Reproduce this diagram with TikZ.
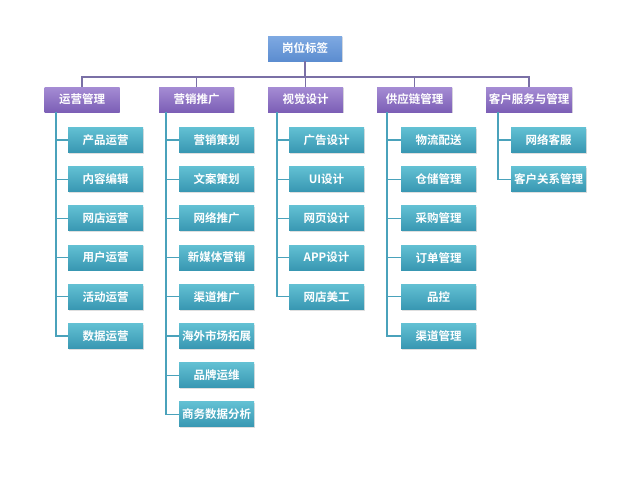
\documentclass[tikz,border=0pt]{standalone}
\usepackage{fontspec}
\newfontfamily\cjk{Noto Sans CJK SC}[BoldFont={* Bold}]
\usetikzlibrary{shadows}
\definecolor{topA}{HTML}{7EA9E2}
\definecolor{topB}{HTML}{5C8DD0}
\definecolor{purA}{HTML}{A58CD4}
\definecolor{purB}{HTML}{7C5FB6}
\definecolor{tealA}{HTML}{62C0D3}
\definecolor{tealB}{HTML}{3897B2}
\definecolor{busline}{HTML}{7A70A6}
\definecolor{trunkline}{HTML}{4AA2BB}
\tikzset{
  box/.style={minimum height=25pt, inner sep=0pt, text=white,
    font=\cjk\bfseries\fontsize{11.5}{13}\selectfont,
    drop shadow={shadow xshift=0.6pt, shadow yshift=-1.2pt, opacity=0.25}},
  rootbox/.style={box, minimum width=74pt, top color=topA, bottom color=topB},
  headbox/.style={box, minimum width=75pt, top color=purA, bottom color=purB},
  leafbox/.style={box, minimum width=75pt, top color=tealA, bottom color=tealB},
  busedge/.style={draw=busline, line width=1.3pt},
  trunkedge/.style={draw=trunkline, line width=1.3pt},
}
\begin{document}
\begin{tikzpicture}[x=1pt,y=-1pt]
\useasboundingbox[fill=white] (0,0) rectangle (631,490);
% root
\node[rootbox] (root) at (305,48.5) {岗位标签};
% heads
\node[headbox] (a1) at (82,99.5) {运营管理};
\node[headbox] (a2) at (196.5,99.5) {营销推广};
\node[headbox] (a3) at (305.5,99.5) {视觉设计};
\node[headbox] (a4) at (414.5,99.5) {供应链管理};
\node[headbox, minimum width=86pt] (a5) at (529,99.5) {客户服务与管理};
% bus
\coordinate (bus) at (305,77);
\draw[busedge] (root.south) -- (root.south |- bus);
\draw[busedge] (a1.north) -- (a1.north |- bus) -- (a5.north |- bus) -- (a5.north);
\draw[busedge] (a2.north) -- (a2.north |- bus);
\draw[busedge] (a3.north) -- (a3.north |- bus);
\draw[busedge] (a4.north) -- (a4.north |- bus);
% trunk x positions
\coordinate (t1) at (56,0);
\coordinate (t2) at (166,0);
\coordinate (t3) at (277,0);
\coordinate (t4) at (387,0);
\coordinate (t5) at (498,0);
% column 1
\node[leafbox] (c11) at (105.5,140) {产品运营};
\node[leafbox] (c12) at (105.5,179.2) {内容编辑};
\node[leafbox] (c13) at (105.5,218.4) {网店运营};
\node[leafbox] (c14) at (105.5,257.6) {用户运营};
\node[leafbox] (c15) at (105.5,296.8) {活动运营};
\node[leafbox] (c16) at (105.5,336) {数据运营};
% column 2
\node[leafbox] (c21) at (216.5,140) {营销策划};
\node[leafbox] (c22) at (216.5,179.2) {文案策划};
\node[leafbox] (c23) at (216.5,218.4) {网络推广};
\node[leafbox] (c24) at (216.5,257.6) {新媒体营销};
\node[leafbox] (c25) at (216.5,296.8) {渠道推广};
\node[leafbox] (c26) at (216.5,336) {海外市场拓展};
\node[leafbox] (c27) at (216.5,375.2) {品牌运维};
\node[leafbox] (c28) at (216.5,414.4) {商务数据分析};
% column 3
\node[leafbox] (c31) at (326.5,140) {广告设计};
\node[leafbox] (c32) at (326.5,179.2) {UI设计};
\node[leafbox] (c33) at (326.5,218.4) {网页设计};
\node[leafbox] (c34) at (326.5,257.6) {APP设计};
\node[leafbox] (c35) at (326.5,296.8) {网店美工};
% column 4
\node[leafbox] (c41) at (438.5,140) {物流配送};
\node[leafbox] (c42) at (438.5,179.2) {仓储管理};
\node[leafbox] (c43) at (438.5,218.4) {采购管理};
\node[leafbox] (c44) at (438.5,257.6) {订单管理};
\node[leafbox] (c45) at (438.5,296.8) {品控};
\node[leafbox] (c46) at (438.5,336) {渠道管理};
% column 5
\node[leafbox] (c51) at (548.5,140) {网络客服};
\node[leafbox] (c52) at (548.5,179.2) {客户关系管理};
% trunks
\draw[trunkedge] (a1.south -| t1) |- (c16.west);
\foreach \i in {1,...,5} \draw[trunkedge] (c1\i.west -| t1) -- (c1\i.west);
\draw[trunkedge] (a2.south -| t2) |- (c28.west);
\foreach \i in {1,...,7} \draw[trunkedge] (c2\i.west -| t2) -- (c2\i.west);
\draw[trunkedge] (a3.south -| t3) |- (c35.west);
\foreach \i in {1,...,4} \draw[trunkedge] (c3\i.west -| t3) -- (c3\i.west);
\draw[trunkedge] (a4.south -| t4) |- (c46.west);
\foreach \i in {1,...,5} \draw[trunkedge] (c4\i.west -| t4) -- (c4\i.west);
\draw[trunkedge] (a5.south -| t5) |- (c52.west);
\draw[trunkedge] (c51.west -| t5) -- (c51.west);
\end{tikzpicture}
\end{document}
